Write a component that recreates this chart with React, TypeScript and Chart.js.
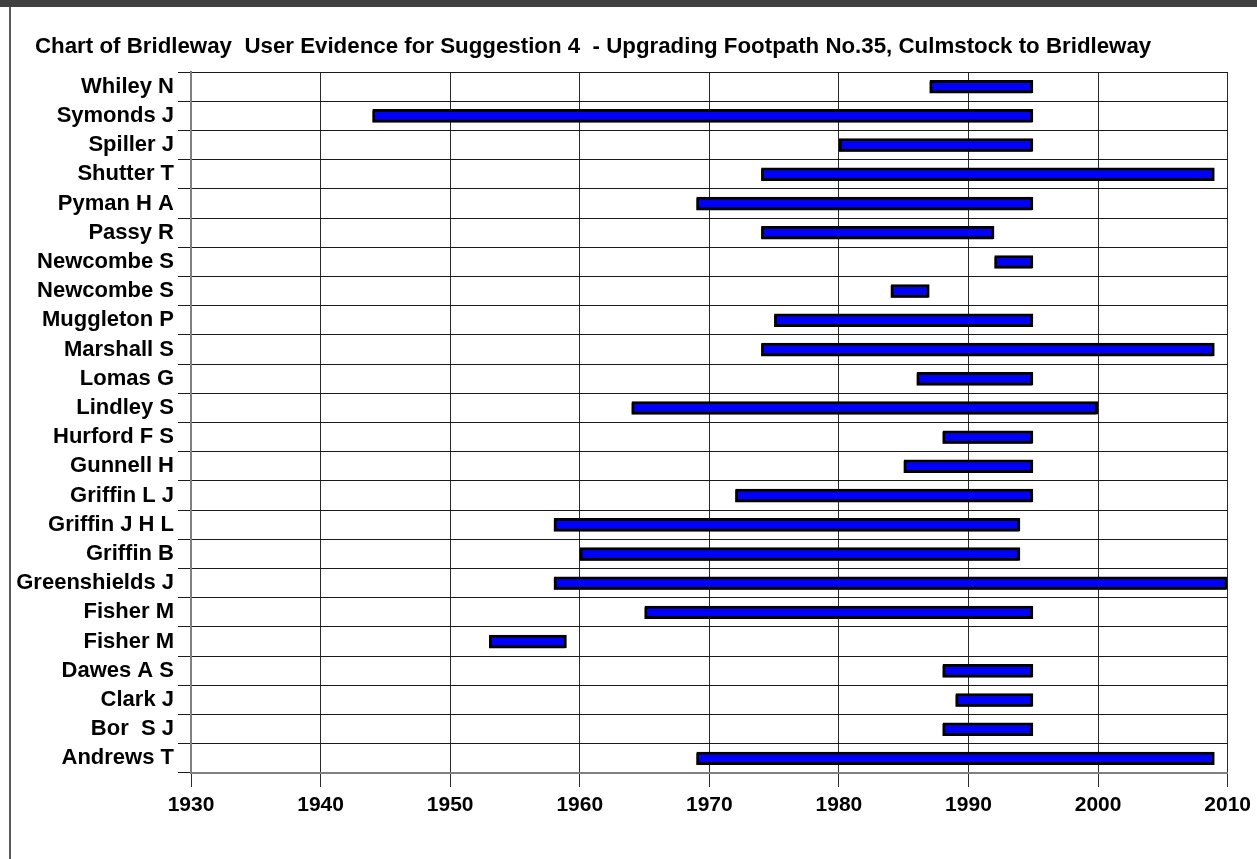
import React, { useEffect, useRef } from "react";
import { Chart, registerables } from "chart.js";

Chart.register(...registerables);

const TITLE = "Chart of Bridleway  User Evidence for Suggestion 4  - Upgrading Footpath No.35, Culmstock to Bridleway";

const names = [
  "Whiley N", "Symonds J", "Spiller J", "Shutter T", "Pyman H A", "Passy R",
  "Newcombe S", "Newcombe S", "Muggleton P", "Marshall S", "Lomas G", "Lindley S",
  "Hurford F S", "Gunnell H", "Griffin L J", "Griffin J H L", "Griffin B",
  "Greenshields J", "Fisher M", "Fisher M", "Dawes A S", "Clark J", "Bor  S J", "Andrews T",
];

const startYears = [
  1987, 1944, 1980, 1974, 1969, 1974, 1992, 1984, 1975, 1974, 1986, 1964,
  1988, 1985, 1972, 1958, 1960, 1958, 1965, 1953, 1988, 1989, 1988, 1969,
];

const endYears = [
  1995, 1995, 1995, 2009, 1995, 1992, 1995, 1987, 1995, 2009, 1995, 2000,
  1995, 1995, 1995, 1994, 1994, 2010, 1995, 1959, 1995, 1995, 1995, 2009,
];

const xMin = 1930;
const xMax = 2010;
const xStep = 10;

const FONT = "'Liberation Sans', Arial, Helvetica, sans-serif";

const titlePlugin = {
  id: "leftTitle",
  afterDraw(chart: any) {
    const ctx = chart.ctx;
    ctx.save();
    ctx.font = `bold 22.3px ${FONT}`;
    ctx.fillStyle = "#000";
    ctx.textAlign = "left";
    ctx.textBaseline = "middle";
    ctx.fillText(TITLE, 35, 47);
    ctx.restore();
  },
};

const shadowPlugin = {
  id: "barShadow",
  beforeDatasetsDraw(chart: any) {
    const ctx = chart.ctx;
    ctx.save();
    ctx.shadowColor = "rgba(0,0,0,0.85)";
    ctx.shadowOffsetX = -1.5;
    ctx.shadowOffsetY = 1.5;
    ctx.shadowBlur = 0;
  },
  afterDatasetsDraw(chart: any) {
    chart.ctx.restore();
  },
};

export default function App() {
  const ref = useRef<HTMLCanvasElement | null>(null);

  useEffect(() => {
    if (!ref.current) return;
    const labels = names.map((n, i) => (names.indexOf(n) !== i ? n + "\u200B".repeat(i) : n));
    const chart = new Chart(ref.current, {
      type: "bar",
      data: {
        labels,
        datasets: [
          {
            label: "Use",
            data: startYears.map((s, i) => [s, endYears[i]]),
            backgroundColor: "#0000ff",
            borderColor: "#000000",
            borderWidth: 3,
            borderSkipped: false,
            barPercentage: 0.46,
            categoryPercentage: 1,
          },
        ],
      },
      options: {
        indexAxis: "y",
        animation: false,
        responsive: false,
        maintainAspectRatio: false,
        layout: { padding: { left: 0, top: 72, right: 29, bottom: 30 } },
        plugins: {
          legend: { display: false },
          tooltip: { enabled: false },
          title: { display: false },
        },
        scales: {
          x: {
            type: "linear",
            position: "bottom",
            min: xMin,
            max: xMax,
            ticks: {
              stepSize: xStep,
              color: "#000",
              font: { family: FONT, size: 21, weight: "bold" },
              padding: 6,
              maxRotation: 0,
              callback: (v: any) => String(v),
            },
            grid: { color: "#2a2a2a", lineWidth: 1, tickLength: 14 },
            border: { color: "#808080", width: 2 },
            afterFit: (s: any) => {
              s.height = 56;
            },
          },
          y: {
            type: "category",
            offset: true,
            grid: { offset: true, color: "#1a1a1a", lineWidth: 1, tickLength: 13 },
            ticks: {
              padding: 4,
              color: "#000",
              font: { family: FONT, size: 22, weight: "bold" },
              autoSkip: false,
            },
            border: { color: "#808080", width: 2 },
            afterFit: (s: any) => {
              s.width = 191;
            },
          },
        },
      },
      plugins: [titlePlugin, shadowPlugin],
    } as any);
    return () => chart.destroy();
  }, []);

  return (
    <div style={{ position: "fixed", left: 0, top: 0, width: 1257, height: 859, background: "#fff" }}>
      <div style={{ position: "absolute", left: 0, top: 0, width: 1257, height: 7, background: "#404040" }} />
      <div style={{ position: "absolute", left: 9, top: 7, width: 2, height: 852, background: "#5a5a5a" }} />
      <canvas ref={ref} width={1257} height={859} style={{ position: "absolute", left: 0, top: 0, width: 1257, height: 859 }} />
    </div>
  );
}
